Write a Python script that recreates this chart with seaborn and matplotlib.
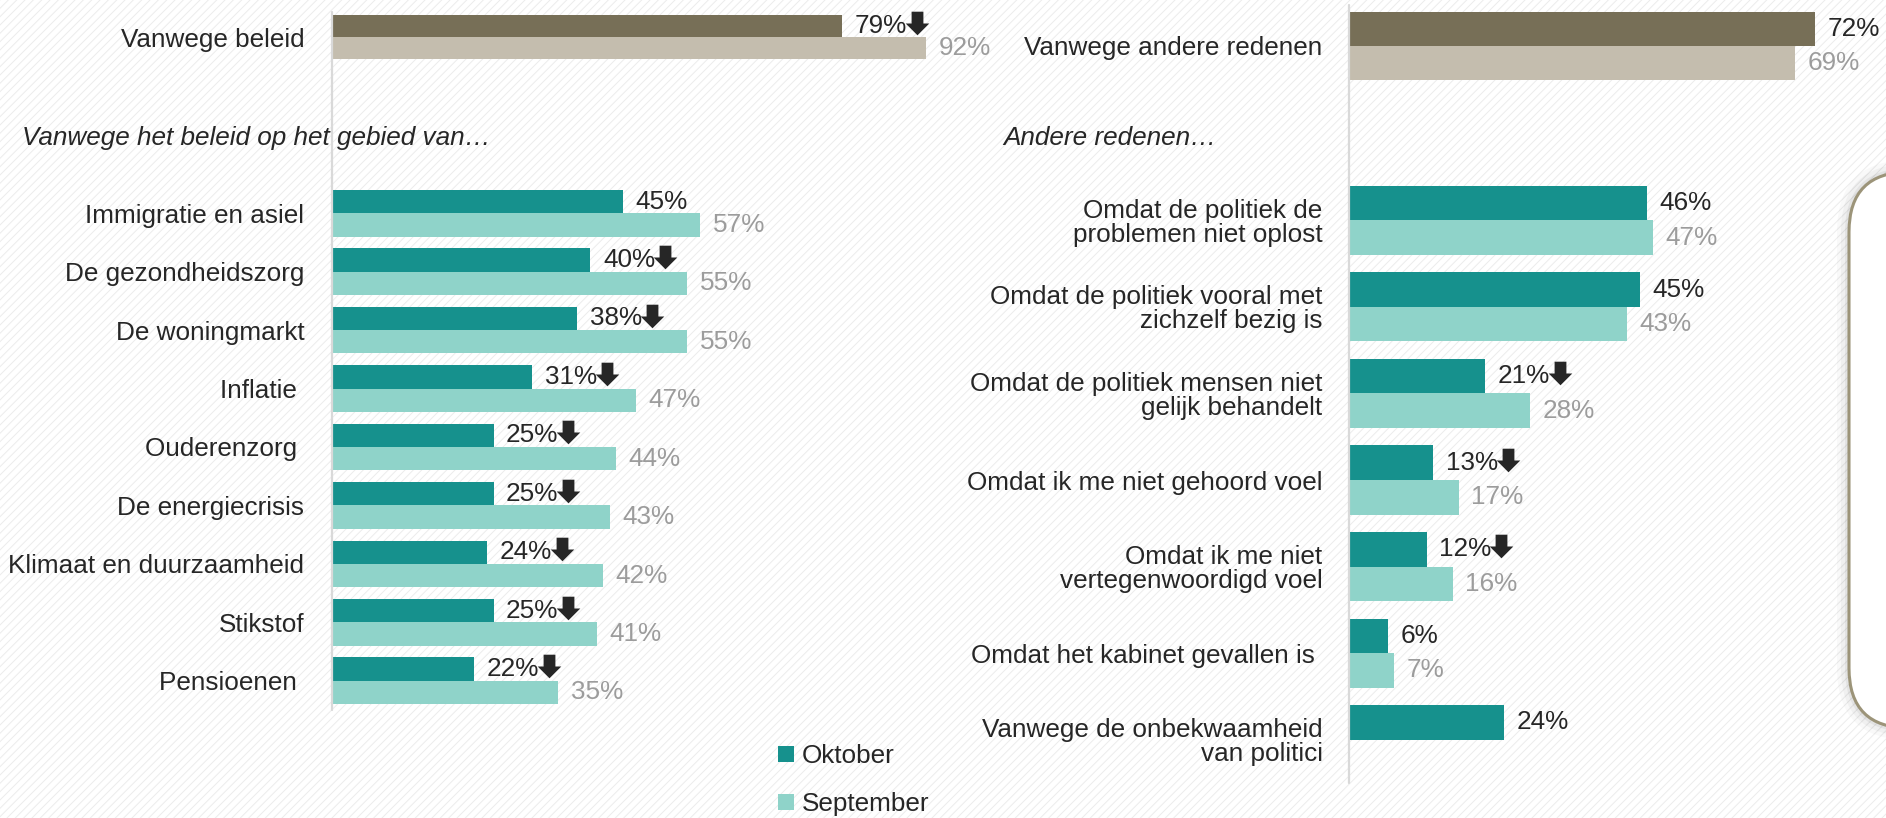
import matplotlib
matplotlib.use("Agg")
import matplotlib.pyplot as plt
from matplotlib.lines import Line2D
from matplotlib.patches import FancyBboxPatch, Rectangle
from matplotlib.path import Path
from matplotlib.transforms import IdentityTransform
import pandas as pd
import seaborn as sns

W, H = 1886, 818
FS = 18.8

months = ["Oktober", "September"]

beleid_top = ["Vanwege beleid"]
beleid_top_okt = [79]
beleid_top_sep = [92]
beleid_top_arrow = [True]

beleid_cats = [
    "Immigratie en asiel",
    "De gezondheidszorg",
    "De woningmarkt",
    "Inflatie ",
    "Ouderenzorg ",
    "De energiecrisis",
    "Klimaat en duurzaamheid",
    "Stikstof",
    "Pensioenen ",
]
beleid_okt = [45, 40, 38, 31, 25, 25, 24, 25, 22]
beleid_sep = [57, 55, 55, 47, 44, 43, 42, 41, 35]
beleid_arrow = [False, True, True, True, True, True, True, True, True]

andere_top = ["Vanwege andere redenen"]
andere_top_okt = [72]
andere_top_sep = [69]
andere_top_arrow = [False]

andere_cats = [
    "Omdat de politiek de\nproblemen niet oplost",
    "Omdat de politiek vooral met\nzichzelf bezig is",
    "Omdat de politiek mensen niet\ngelijk behandelt",
    "Omdat ik me niet gehoord voel",
    "Omdat ik me niet\nvertegenwoordigd voel",
    "Omdat het kabinet gevallen is ",
    "Vanwege de onbekwaamheid\nvan politici",
]
andere_okt = [46, 45, 21, 13, 12, 6, 24]
andere_sep = [47, 43, 28, 17, 16, 7, None]
andere_arrow = [False, False, True, True, True, False, False]

teal = ["#16918D", "#8FD3C9"]
taupe = ["#776F57", "#C4BDAE"]
dark_text = "#262626"
gray_text = "#9C9C9C"

sns.set_style("white")
plt.rcParams["font.family"] = ["Liberation Sans", "DejaVu Sans"]
plt.rcParams["hatch.linewidth"] = 0.7

fig = plt.figure(figsize=(W / 100, H / 100), dpi=100)

# hatched background
fig.add_artist(Rectangle((0, 0), 1, 1, transform=fig.transFigure, facecolor="white",
                         edgecolor="#ECECEC", hatch="////", linewidth=0, zorder=-10))

# block arrow used as the "down" marker
down_arrow = Path([(-0.25, 0.5), (0.25, 0.5), (0.25, 0.0), (0.5, 0.0), (0.0, -0.5),
                   (-0.5, 0.0), (-0.25, 0.0), (-0.25, 0.5)], closed=True)

arrow_labels = []


def px_axes(left, top, width, height):
    ax = fig.add_axes([left / W, 1 - (top + height) / H, width / W, height / H])
    ax.patch.set_alpha(0)
    return ax


def draw(ax, cats, okt, sep, arrows, colors, xmax, pad):
    n = len(cats)
    df = pd.DataFrame({
        "cat": cats * 2,
        "month": [months[0]] * n + [months[1]] * n,
        "value": okt + sep,
    }).dropna()
    sns.barplot(data=df, x="value", y="cat", hue="month", hue_order=months, order=cats,
                palette=dict(zip(months, colors)), orient="h", width=0.8, gap=0,
                saturation=1, errorbar=None, linewidth=0, legend=False, ax=ax)
    ax.set_xlim(0, xmax)
    ax.set_ylim(n - 0.5, -0.5)
    for s in ax.spines.values():
        s.set_visible(False)
    ax.set_xticks([])
    ax.set_xlabel("")
    ax.set_ylabel("")
    ax.tick_params(axis="y", length=0, pad=pad, labelsize=FS, labelcolor=dark_text)
    for t in ax.get_yticklabels():
        t.set_linespacing(1.0)
    okt_labels = [f"{v}%" for v in okt]
    sep_labels = [f"{v:.0f}%" for v in sep if v is not None]
    texts = ax.bar_label(ax.containers[0], labels=okt_labels, padding=9, color=dark_text, fontsize=FS)
    ax.bar_label(ax.containers[1], labels=sep_labels, padding=9, color=gray_text, fontsize=FS)
    arrow_labels.extend(t for t, a in zip(texts, arrows) if a)


# left panel
ax_lt = px_axes(332, 9, 646, 56)
draw(ax_lt, beleid_top, beleid_top_okt, beleid_top_sep, beleid_top_arrow, taupe, 100, 20)
ax_lb = px_axes(332, 184, 646, 526)
draw(ax_lb, beleid_cats, beleid_okt, beleid_sep, beleid_arrow, teal, 100, 20)

# right panel
ax_rt = px_axes(1349, 3, 537, 86)
draw(ax_rt, andere_top, andere_top_okt, andere_top_sep, andere_top_arrow, taupe, 83, 19)
ax_rb = px_axes(1349, 177, 537, 606)
draw(ax_rb, andere_cats, andere_okt, andere_sep, andere_arrow, teal, 83, 19)

# vertical axis lines
fig.add_artist(Line2D([332 / W] * 2, [1 - 12 / H, 1 - 710 / H], color="#D9D9D9", lw=1.6, zorder=5))
fig.add_artist(Line2D([1349 / W] * 2, [1 - 5 / H, 1 - 783 / H], color="#D9D9D9", lw=1.6, zorder=5))

# section headers
fig.text(22 / W, 1 - 138 / H, "Vanwege het beleid op het gebied van\u2026", style="italic",
         fontsize=FS, color=dark_text, va="center")
fig.text(1003 / W, 1 - 138 / H, "Andere redenen\u2026", style="italic",
         fontsize=FS, color=dark_text, va="center")

# legend
handles = [Rectangle((0, 0), 1, 1, facecolor=c, edgecolor="none") for c in teal]
fig.legend(handles, months, loc="upper left", bbox_to_anchor=(778 / W, 1 - 744 / H),
           frameon=False, fontsize=FS, handlelength=0.6, handleheight=0.6,
           handletextpad=0.3, labelspacing=0.93, borderpad=0, borderaxespad=0,
           labelcolor=dark_text)

# rounded box on the right edge (cut off)
for grow, alpha in [(12, 0.025), (8, 0.035), (4, 0.05)]:
    fig.add_artist(FancyBboxPatch((1849 - grow, 90 - grow), 300 + 2 * grow, 556 + 2 * grow,
                                  boxstyle=f"round,pad=0,rounding_size={60 + grow}",
                                  transform=IdentityTransform(), facecolor="#000000",
                                  edgecolor="none", alpha=alpha, zorder=1))
fig.add_artist(FancyBboxPatch((1849, 90), 300, 556, boxstyle="round,pad=0,rounding_size=60",
                              transform=IdentityTransform(), facecolor="white",
                              edgecolor="#9C9479", linewidth=2.2, zorder=2))

# down arrows right after the October labels
renderer = fig.canvas.get_renderer()
for t in arrow_labels:
    bb = t.get_window_extent(renderer)
    fig.add_artist(Line2D([bb.x1 + 10], [bb.y0 + bb.height * 0.62], marker=down_arrow,
                          markersize=17, color=dark_text, markeredgewidth=0,
                          linestyle="none", transform=IdentityTransform(), zorder=6))

fig.savefig("out.png", dpi=100)
